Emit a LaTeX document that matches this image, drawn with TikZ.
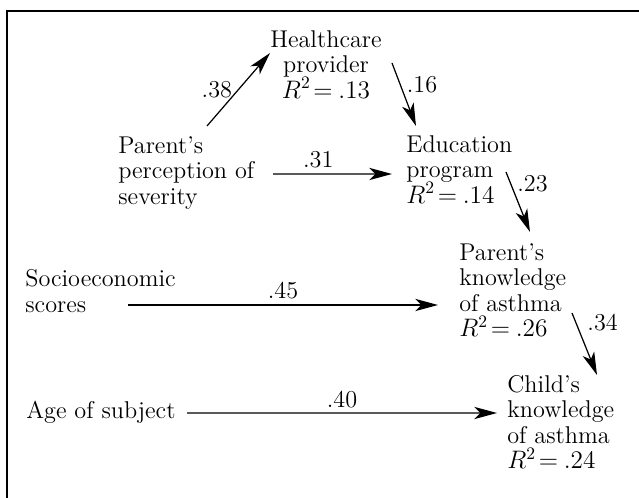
\documentclass[tikz,border=0pt]{standalone}
\usepackage{tikz}
\usetikzlibrary{arrows.meta}
\usetikzlibrary{positioning}

\newcommand{\rsq}[1]{$R^{2}\mkern2mu{=}\mkern4mu#1$}

\begin{document}
\begin{tikzpicture}[
    font=\fontsize{13.8}{14.5}\selectfont
]
\tikzset{
    varnode/.style  = {inner sep=0pt, align=left, anchor=north west},
    varnodec/.style = {inner sep=0pt, align=center, anchor=north},
    edgen/.style    = {-{Stealth[length=13pt,width=7pt,inset=3.5pt]}, line width=0.7pt}
}
\useasboundingbox (0,0) rectangle (12.78,9.96);
\clip (0,0) rectangle (12.78,9.96);
% frame
\draw[line width=1.5pt] (0.14,-0.5) -- (0.14,9.74) -- (13.5,9.74);
% variables
\node[varnodec] at (6.52,9.36)  (hp)  {Healthcare\\provider\\\rsq{.13}};
\node[varnode]  at (2.36,7.24)  (pp)  {Parent's\\perception of\\severity};
\node[varnode]  at (8.12,7.26)  (ep)  {Education\\program\\\rsq{.14}};
\node[varnode]  at (9.18,5.10)  (pk)  {Parent's\\knowledge\\of asthma\\\rsq{.26}};
\node[varnode]  at (0.50,4.57)  (ses) {Socioeconomic\\scores};
\node[varnode]  at (0.52,1.94)  (age) {Age of subject};
\node[varnode]  at (10.14,2.46) (ck)  {Child's\\knowledge\\of asthma\\\rsq{.24}};
% paths
\draw[edgen] ([shift={(1.78,0.20)}]pp.north west) -- ([shift={(-1.12,-0.46)}]hp.north)
    node[midway,left] {.38};
\draw[edgen] ([shift={(1.32,-0.66)}]hp.north) -- ([shift={(0.20,0.18)}]ep.north west)
    node[pos=0.35,right] {.16};
\draw[edgen] ([shift={(3.10,-0.76)}]pp.north west) -- ([shift={(-0.28,-0.78)}]ep.north west)
    node[pos=0.38,above] {.31};
\draw[edgen] ([shift={(2.00,-0.74)}]ep.north west) -- ([shift={(1.42,0.22)}]pk.north west)
    node[pos=0.2,right] {.23};
\draw[edgen] ([shift={(2.26,-1.40)}]pk.north west) -- ([shift={(1.80,0)}]ck.north west)
    node[pos=0.15,right,xshift=3pt] {.34};
\draw[edgen] ([shift={(2.06,-0.71)}]ses.north west) -- ([shift={(-0.42,-1.24)}]pk.north west)
    node[midway,above] {.45};
\draw[edgen] ([shift={(3.22,-0.24)}]age.north west) -- ([shift={(-0.20,-0.76)}]ck.north west)
    node[midway,above,yshift=-1pt] {.40};
\end{tikzpicture}
\end{document}
